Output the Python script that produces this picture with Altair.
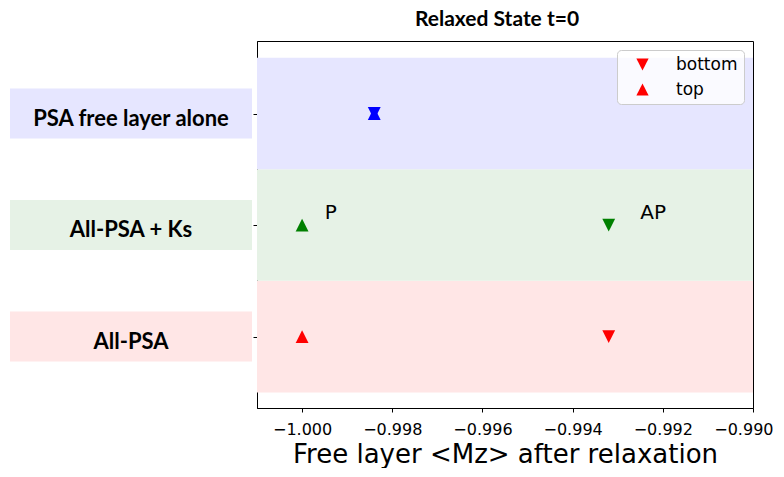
import altair as alt
import pandas as pd

# ---- data ----
categories = ["All-PSA", "All-PSA + Ks", "PSA free layer alone"]
cat_pos = [0, 1, 2]
top_values = [-1.0000, -1.0000, -0.9984]
bottom_values = [-0.9932, -0.9932, -0.9984]
marker_colors = ["#ff0000", "#008000", "#0000ff"]
band_colors = ["#ffe6e6", "#e6f2e6", "#e6e6ff"]
annot_text = ["P", "AP"]
annot_x = [-0.9995, -0.9925]
annot_cat = ["All-PSA + Ks", "All-PSA + Ks"]
x_ticks = [-1.000, -0.998, -0.996, -0.994, -0.992, -0.990]
x_domain = [-1.001, -0.990]
y_domain = [-0.64, 2.65]
shape_names = ["bottom", "top"]
shape_paths = ["M-1,-1L1,-1L0,1Z", "M0,-1L1,1L-1,1Z"]

# ---- tables ----
cat_df = pd.DataFrame({"cat": categories, "pos": cat_pos})
rows = []
for c, p, t, b in zip(categories, cat_pos, top_values, bottom_values):
    rows.append({"cat": c, "pos": p, "position": "bottom", "value": b})
    rows.append({"cat": c, "pos": p, "position": "top", "value": t})
pts_df = pd.DataFrame(rows)
ann_df = pd.DataFrame({
    "label": annot_text,
    "x": annot_x,
    "pos": [cat_pos[categories.index(c)] for c in annot_cat],
})

H = 367
yscale = alt.Scale(domain=y_domain, nice=False, zero=False)
xscale = alt.Scale(domain=x_domain, nice=False, zero=False)

title_style = dict(font="Lato", fontSize=21, fontWeight="bold", color="black",
                   anchor="middle", offset=11)

x_axis = alt.Axis(values=x_ticks, format=".3f", grid=False,
                  labelFlush=1, labelFlushOffset=20,
                  title="Free layer <Mz> after relaxation",
                  titleFont="DejaVu Sans", titleFontSize=26, titleFontWeight="normal",
                  titleColor="black", titlePadding=4,
                  labelFont="DejaVu Sans", labelFontSize=16, labelColor="black",
                  labelPadding=9, tickSize=4, tickColor="black", domainColor="black")

# ---- left label panel ----
left_boxes = alt.Chart(cat_df).transform_calculate(
    lo="datum.pos - 0.224", hi="datum.pos + 0.224"
).mark_rect().encode(
    x=alt.value(0), x2=alt.value("width"),
    y=alt.Y("lo:Q", scale=yscale, axis=None), y2="hi:Q",
    fill=alt.Fill("cat:N", scale=alt.Scale(domain=categories, range=band_colors), legend=None),
)
left_text = alt.Chart(cat_df).transform_calculate(mid="0.5").mark_text(
    font="Lato", fontSize=22, fontWeight="bold", color="black",
    align="center", baseline="middle", dy=5,
).encode(
    x=alt.X("mid:Q", scale=alt.Scale(domain=[0, 1]), axis=None),
    y=alt.Y("pos:Q", scale=yscale, axis=None),
    text="cat:N",
)
left = alt.layer(left_boxes, left_text).properties(
    width=242, height=H,
    title=alt.TitleParams(" ", **title_style),
    view=alt.ViewBackground(stroke=None),
)

# ---- main panel ----
bands = alt.Chart(cat_df).transform_calculate(
    lo="datum.pos - 0.5", hi="datum.pos + 0.5"
).mark_rect().encode(
    x=alt.value(0), x2=alt.value("width"),
    y=alt.Y("lo:Q", scale=yscale,
            axis=alt.Axis(values=cat_pos, labels=False, title=None, grid=False,
                          tickSize=4, tickColor="black", domainColor="black")),
    y2="hi:Q",
    fill=alt.Fill("cat:N", scale=alt.Scale(domain=categories, range=band_colors), legend=None),
)

points = alt.Chart(pts_df).mark_point(filled=True, size=165, opacity=1, strokeWidth=0).encode(
    x=alt.X("value:Q", scale=xscale, axis=x_axis),
    y=alt.Y("pos:Q", scale=yscale),
    color=alt.Color("cat:N", scale=alt.Scale(domain=categories, range=marker_colors), legend=None),
    shape=alt.Shape("position:N", scale=alt.Scale(domain=shape_names, range=shape_paths),
                    legend=alt.Legend(title=None, orient="top-right", offset=9,
                                      padding=6, symbolOffset=11, labelOffset=25,
                                      rowPadding=7, symbolSize=150,
                                      symbolFillColor="#ff0000", symbolStrokeWidth=0,
                                      labelFont="DejaVu Sans", labelFontSize=17,
                                      labelColor="black",
                                      fillColor="rgba(255,255,255,0.8)",
                                      strokeColor="#cccccc", cornerRadius=4)),
)

annots = alt.Chart(ann_df).mark_text(
    font="DejaVu Sans", fontSize=20, color="black", align="left",
    baseline="alphabetic", dy=-6,
).encode(
    x=alt.X("x:Q", scale=xscale, axis=x_axis),
    y=alt.Y("pos:Q", scale=yscale),
    text="label:N",
)

main = alt.layer(bands, points, annots).properties(
    width=496, height=H,
    title=alt.TitleParams("Relaxed State t=0", dx=-8, **title_style),
    view=alt.ViewBackground(stroke="black", strokeWidth=1),
)

chart = alt.hconcat(left, main, spacing=0).properties(
    padding={"left": 2, "top": 0, "right": 0, "bottom": 0},
    background="white",
).resolve_scale(fill="independent", color="independent", shape="independent"
).resolve_legend(shape="independent").configure_axisX(
    labelFontSize=16, labelFont="DejaVu Sans",
    labelFlush=1, labelFlushOffset=20,
    titleFontSize=26, titleFont="DejaVu Sans",
)

chart.save("out.html", embed_options={"renderer": "svg", "actions": False})
